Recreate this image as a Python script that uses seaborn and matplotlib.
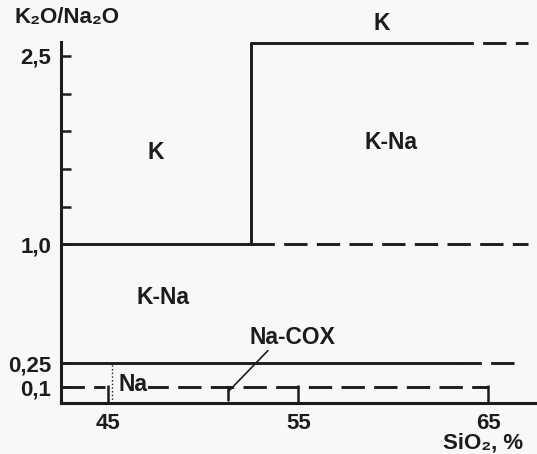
import numpy as np
import matplotlib
matplotlib.use("Agg")
import matplotlib.pyplot as plt
import seaborn as sns

# Классификационные границы (SiO2, % и K2O/Na2O)
sio2_ticks = [45, 55, 65]
ratio_ticks = [0.1, 0.25, 1.0, 2.5]
ratio_labels = ["0,1", "0,25", "1,0", "2,5"]
ratio_minor = [1.3, 1.6, 1.9, 2.2]

sio2_split = 52.5      # граница K / K-Na выше 1,0
ratio_top = 2.6        # верхняя граница поля K-Na
sio2_na_left = 45.2    # граница поля Na
sio2_nacox = 51.3      # точка выноски Na-COX

# сегменты границ: x, y, стиль
seg_x = [
    [42.5, 52.5], [52.5, 67.1],      # 1,0
    [52.5, 52.5],                    # вертикаль
    [52.5, 63.0], [63.0, 67.1],      # верх
    [42.5, 63.4], [63.4, 66.7],      # 0,25
    [42.5, 44.8], [46.9, 65.0],      # 0,1
]
seg_y = [
    [1.0, 1.0], [1.0, 1.0],
    [1.0, ratio_top],
    [ratio_top, ratio_top], [ratio_top, ratio_top],
    [0.25, 0.25], [0.25, 0.25],
    [0.1, 0.1], [0.1, 0.1],
]
seg_style = ["-", "--", "-", "-", "--", "-", "--", "--", "--"]

labels = ["K", "K", "K-Na", "K-Na", "Na-COX", "Na"]
label_x = [59.4, 47.5, 59.9, 47.9, 54.7, 46.3]
label_y = [2.76, 1.73, 1.81, 0.667, 0.415, 0.118]

# шкала по оси Y (на схеме она неравномерная)
knots_val = [0.0, 1.0, 2.5, 3.0]
knots_px = [0.0, 159.0, 348.0, 411.0]


def fwd(y):
    return np.interp(y, knots_val, knots_px)


def inv(u):
    return np.interp(u, knots_px, knots_val)


sns.set_style("white")
plt.rcParams["font.family"] = ["Liberation Sans", "DejaVu Sans"]
plt.rcParams["font.weight"] = "bold"

ink = "#1c1c1c"
bg = "#f8f8f6"
fs = 16.5

fig = plt.figure(figsize=(5.37, 4.54), dpi=100, facecolor=bg)
ax = fig.add_axes([61 / 537, 51 / 454, 476 / 537, 361 / 454])
ax.set_facecolor(bg)
ax.set_yscale("function", functions=(fwd, inv))

for xs, ys, st in zip(seg_x, seg_y, seg_style):
    sns.lineplot(x=xs, y=ys, ax=ax, color=ink, lw=2.1, linestyle=st,
                 estimator=None, sort=False, clip_on=False)
    if st == "--":
        ax.lines[-1].set_dashes([8, 3.2])

# тонкая пунктирная граница поля Na
sns.lineplot(x=[sio2_na_left, sio2_na_left], y=[0.0, 0.25], ax=ax, color=ink,
             lw=1.0, linestyle=":", estimator=None, sort=False)

# выноска Na-COX
ax.plot([53.4, sio2_nacox], [0.33, 0.07], color=ink, lw=1.2)
ax.plot([sio2_nacox, sio2_nacox], [0.1, 0.02], color=ink, lw=1.8)

for t, x, y in zip(labels, label_x, label_y):
    ax.text(x, y, t, ha="center", va="center", fontsize=fs, color=ink,
            fontweight="bold", clip_on=False,
            bbox=dict(facecolor=bg, edgecolor="none", pad=0.5) if t == "Na" else None)

ax.set_xlim(42.5, 67.58)
ax.set_ylim(0, 2.61)
ax.set_xticks(sio2_ticks)
ax.set_xticklabels([str(v) for v in sio2_ticks])
ax.set_yticks(ratio_ticks)
ax.set_yticklabels(ratio_labels)
ax.set_yticks(ratio_minor, minor=True)

ax.tick_params(axis="y", which="both", direction="in", length=7, width=1.8,
               colors=ink, labelsize=fs - 0.5, pad=7, left=True)
ax.tick_params(axis="x", which="both", direction="in", length=13, width=1.8,
               colors=ink, labelsize=fs - 0.5, pad=7, bottom=True)
for lab in ax.get_xticklabels() + ax.get_yticklabels():
    lab.set_fontweight("bold")

sns.despine(ax=ax)
for s in ["left", "bottom"]:
    ax.spines[s].set_linewidth(2.2)
    ax.spines[s].set_color(ink)

fig.text(14 / 537, 1 - 18 / 454, "K₂O/Na₂O", ha="left", va="center",
         fontsize=fs - 0.5, color=ink, fontweight="bold")
fig.text(483 / 537, 1 - 443 / 454, "SiO₂, %", ha="center", va="center",
         fontsize=fs - 0.5, color=ink, fontweight="bold")

fig.savefig("out.png", dpi=100, facecolor=bg)
